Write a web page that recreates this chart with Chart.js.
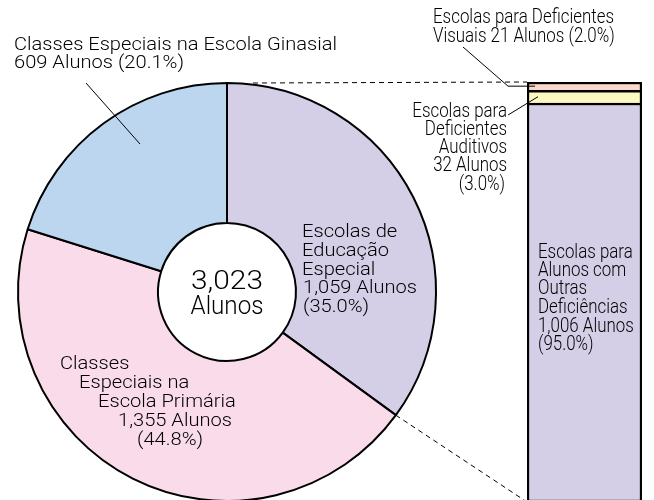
<!DOCTYPE html>
<html>
<head>
<meta charset="utf-8">
<script src="https://cdn.jsdelivr.net/npm/chart.js@4.4.1/dist/chart.umd.min.js"></script>
<style>
  html, body { margin: 0; padding: 0; background: #fff; overflow: hidden; }
  #wrap { position: relative; width: 654px; height: 500px; overflow: hidden; }
  #wrap canvas { position: absolute; left: 0; top: 0; }
</style>
</head>
<body>
<div id="wrap">
  <canvas id="pieChart" width="654" height="520"></canvas>
  <canvas id="barChart" width="654" height="520"></canvas>
</div>
<script>
// Dados do gráfico de rosca (total de alunos)
const pieCategories = ["Escolas de Educação Especial", "Classes Especiais na Escola Primária", "Classes Especiais na Escola Ginasial"];
const pieValues = [1059, 1355, 609];
const pieColors = ["#d4cfe7", "#f9dbe9", "#bcd6f0"];

// Dados da barra (detalhe das Escolas de Educação Especial)
const barCategories = ["Escolas para Alunos com Outras Deficiências", "Escolas para Deficientes Auditivos", "Escolas para Deficientes Visuais"];
const barValues = [1006, 32, 21];
const barColors = ["#d4cfe7", "#fdf7c0", "#fbd8c8"];

const fmt = (n) => n.toLocaleString("en-US");
const pct = (v, total) => (v / total * 100).toFixed(1) + "%";
const pieTotal = pieValues.reduce((a, b) => a + b, 0);
const barTotal = barValues.reduce((a, b) => a + b, 0);

const fontFamily = 'Roboto, "Noto Sans", sans-serif';

// Gráfico de rosca
const pieChart = new Chart(document.getElementById("pieChart").getContext("2d"), {
  type: "doughnut",
  data: {
    labels: pieCategories,
    datasets: [{
      data: pieValues,
      backgroundColor: pieColors,
      borderColor: "#000",
      borderWidth: 2,
    }],
  },
  options: {
    responsive: false,
    animation: false,
    cutout: "33%",
    layout: { padding: { left: 17, right: 217, top: 82, bottom: 18 } },
    plugins: { legend: { display: false }, tooltip: { enabled: false } },
  },
});

// Textos e linhas de chamada
const labelsPlugin = {
  id: "labels",
  afterDraw(chart) {
    const ctx = chart.ctx;
    const area = chart.chartArea;
    const arc = pieChart.getDatasetMeta(0).data[0];
    const cx = arc.x, cy = arc.y, R = arc.outerRadius;

    ctx.save();
    ctx.strokeStyle = "#000";
    ctx.lineWidth = 1;

    // linhas tracejadas ligando a rosca à barra
    ctx.setLineDash([5, 4]);
    ctx.beginPath();
    ctx.moveTo(cx + 26, cy - R);
    ctx.lineTo(area.left, area.top);
    const a = arc.endAngle;
    ctx.moveTo(cx + R * Math.cos(a), cy + R * Math.sin(a));
    ctx.lineTo(area.left, area.bottom);
    ctx.stroke();
    ctx.setLineDash([]);

    // linhas de chamada
    const visBar = chart.getDatasetMeta(2).data[0];
    const audBar = chart.getDatasetMeta(1).data[0];
    const visMid = (visBar.y + visBar.base) / 2;
    const audMid = (audBar.y + audBar.base) / 2;
    ctx.beginPath();
    ctx.moveTo(86, 83);
    ctx.lineTo(140, 144);
    ctx.moveTo(463, 47);
    ctx.lineTo(508, visMid);
    ctx.lineTo(535, visMid);
    ctx.moveTo(508, 115);
    ctx.lineTo(538, audMid);
    ctx.stroke();

    ctx.fillStyle = "#000";
    ctx.textBaseline = "middle";
    // largura ajustada para imitar a fonte estreita do original
    const fitScale = (font, sample, width) => {
      ctx.font = font;
      return width / ctx.measureText(sample).width;
    };
    const lines = (list, align, font, sx) => {
      ctx.textAlign = align;
      ctx.font = font;
      list.forEach(([x, y, t]) => {
        ctx.save();
        ctx.translate(x, y);
        ctx.scale(sx, 1);
        ctx.fillText(t, 0, 0);
        ctx.restore();
      });
    };

    const big = "300 18.5px " + fontFamily;
    const bigScale = fitScale(big, pieCategories[2], 323);
    lines([
      [14, 45, pieCategories[2]],
      [14, 63, fmt(pieValues[2]) + " Alunos (" + pct(pieValues[2], pieTotal) + ")"],
    ], "left", big, bigScale);
    lines([
      [302, 232, "Escolas de"],
      [302, 251, "Educação"],
      [302, 270, "Especial"],
      [303, 288, fmt(pieValues[0]) + " Alunos"],
      [303, 307, "(" + pct(pieValues[0], pieTotal) + ")"],
    ], "left", big, bigScale);
    lines([
      [60, 364, "Classes"],
      [79, 383, "Especiais na"],
      [98, 402, "Escola Primária"],
      [118, 421, fmt(pieValues[1]) + " Alunos"],
      [137, 440, "(" + pct(pieValues[1], pieTotal) + ")"],
    ], "left", big, bigScale);

    const centre = "300 26px " + fontFamily;
    lines([[cx, 282, fmt(pieTotal)]], "center", centre, fitScale(centre, fmt(pieTotal), 72));
    lines([[cx, 307, "Alunos"]], "center", centre, fitScale(centre, "Alunos", 73));

    const small = "300 19.5px " + fontFamily;
    const smallScale = fitScale(small, "Escolas para Deficientes", 181);
    lines([
      [433, 18, "Escolas para Deficientes"],
      [433, 37, "Visuais " + barValues[2] + " Alunos (" + pct(barValues[2], barTotal) + ")"],
    ], "left", small, smallScale);
    lines([
      [507, 112, "Escolas para"],
      [507, 130, "Deficientes"],
      [507, 148, "Auditivos"],
      [507, 166, barValues[1] + " Alunos"],
      [505, 185, "(" + pct(barValues[1], barTotal) + ")"],
    ], "right", small, smallScale);
    lines([
      [538, 253, "Escolas para"],
      [538, 271, "Alunos com"],
      [538, 289, "Outras"],
      [538, 308, "Deficiências"],
      [538, 327, fmt(barValues[0]) + " Alunos"],
      [538, 345, "(" + pct(barValues[0], barTotal) + ")"],
    ], "left", small, smallScale);
    ctx.restore();
  },
};

// Barra empilhada
new Chart(document.getElementById("barChart").getContext("2d"), {
  type: "bar",
  data: {
    labels: [""],
    datasets: barCategories.map((name, i) => ({
      label: name,
      data: [barValues[i]],
      backgroundColor: barColors[i],
      borderColor: "#000",
      borderWidth: 2.5,
      borderSkipped: i === 0 ? false : "bottom",
      barPercentage: 1,
      categoryPercentage: 1,
    })),
  },
  options: {
    responsive: false,
    animation: false,
    layout: { padding: { left: 527, right: 12, top: 82, bottom: 18 } },
    scales: {
      x: { stacked: true, display: false },
      y: { stacked: true, display: false, min: 0, max: barTotal },
    },
    plugins: { legend: { display: false }, tooltip: { enabled: false } },
  },
  plugins: [labelsPlugin],
});
</script>
</body>
</html>
